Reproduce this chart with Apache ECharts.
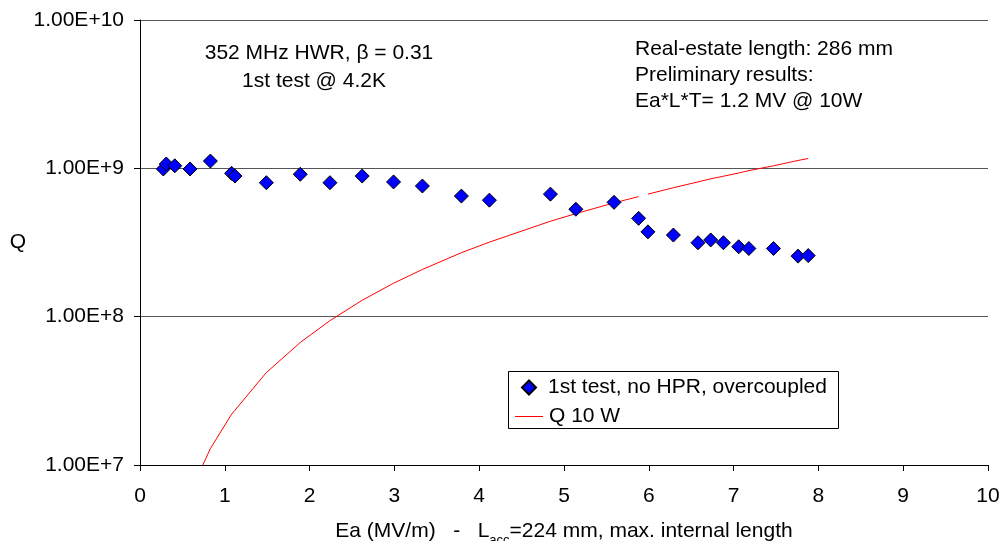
<!DOCTYPE html>
<html>
<head>
<meta charset="utf-8">
<script src="https://cdn.jsdelivr.net/npm/echarts@6/dist/echarts.min.js"></script>
<style>
html,body{margin:0;padding:0;background:#fff;}
#chart{width:1002px;height:541px;}
</style>
</head>
<body>
<div id="chart"></div>
<script>
// ---- data ----
var testE = [0.275, 0.31, 0.41, 0.59, 0.83, 1.08, 1.12, 1.49, 1.89, 2.24, 2.62, 2.99, 3.33, 3.79, 4.12, 4.84, 5.14, 5.59, 5.88, 5.99, 6.29, 6.58, 6.73, 6.88, 7.06, 7.18, 7.47, 7.76, 7.88];
var testQ = [0.99e9, 1.07e9, 1.04e9, 0.99e9, 1.12e9, 0.925e9, 0.887e9, 0.80e9, 0.912e9, 0.80e9, 0.887e9, 0.81e9, 0.76e9, 0.65e9, 0.61e9, 0.67e9, 0.53e9, 0.59e9, 0.46e9, 0.373e9, 0.355e9, 0.315e9, 0.329e9, 0.315e9, 0.296e9, 0.288e9, 0.288e9, 0.256e9, 0.258e9];
var q10E = [0.275, 0.31, 0.41, 0.59, 0.83, 1.08, 1.12, 1.49, 1.89, 2.24, 2.62, 2.99, 3.33, 3.79, 4.12, 4.84, 5.14, 5.59, 5.88, 5.93, 5.99, 6.29, 6.58, 6.73, 6.88, 7.06, 7.18, 7.47, 7.76, 7.88];
var q10Q = [1.4e6, 1.8e6, 3.2e6, 6.5e6, 1.29e7, 2.2e7, 2.34e7, 4.2e7, 6.7e7, 9.4e7, 1.29e8, 1.68e8, 2.08e8, 2.7e8, 3.18e8, 4.4e8, 4.95e8, 5.85e8, 6.45e8, '-', 6.7e8, 7.4e8, 8.1e8, 8.5e8, 8.85e8, 9.3e8, 9.65e8, 1.04e9, 1.13e9, 1.165e9];
var seriesNames = ['1st test, no HPR, overcoupled', 'Q 10 W'];
var xTicks = [0, 10, 1];
var yRange = [1e7, 1e10];
var noteLeft = ['352 MHz HWR, \u03B2 = 0.31', '1st test @ 4.2K'];
var noteRight = ['Real-estate length: 286 mm', 'Preliminary results:', 'Ea*L*T= 1.2 MV @ 10W'];

function zip(a, b) { return a.map(function (v, i) { return [v, b[i]]; }); }

var FONT = 'Arial, "Liberation Sans", sans-serif';
var FS = 21;
var chart = echarts.init(document.getElementById('chart'), null, {renderer: 'canvas'});

var option = {
  backgroundColor: '#ffffff',
  animation: false,
  textStyle: {fontFamily: FONT, color: '#000'},
  grid: {left: 140, right: 14, top: 20, bottom: 76, containLabel: false, outerBoundsMode: 'none'},
  xAxis: {
    type: 'value', min: xTicks[0], max: xTicks[1], interval: xTicks[2],
    name: '{n|Ea (MV/m)   -   L}{s|acc}{n|=224 mm, max. internal length}',
    nameLocation: 'middle', nameGap: 56,
    nameTextStyle: {
      rich: {
        n: {fontSize: FS, fontFamily: FONT, color: '#000', verticalAlign: 'bottom'},
        s: {fontSize: 13, fontFamily: FONT, color: '#000', verticalAlign: 'bottom', padding: [0, 0, -5, 0]}
      }
    },
    axisLine: {show: true, onZero: false, lineStyle: {color: '#000', width: 1}},
    axisTick: {show: true, inside: false, length: 6, lineStyle: {color: '#000'}},
    axisLabel: {fontSize: FS, fontFamily: FONT, color: '#000', margin: 21},
    splitLine: {show: false}
  },
  yAxis: {
    type: 'log', logBase: 10, min: yRange[0], max: yRange[1],
    name: 'Q', nameLocation: 'middle', nameRotate: 0, nameGap: 114,
    nameTextStyle: {fontSize: FS, fontFamily: FONT, color: '#000'},
    axisLine: {show: true, lineStyle: {color: '#000', width: 1}},
    axisTick: {show: true, inside: false, length: 6, lineStyle: {color: '#000'}},
    axisLabel: {
      fontSize: FS, fontFamily: FONT, color: '#000', margin: 16,
      formatter: function (v) { return Number(v).toExponential(2).toUpperCase(); }
    },
    splitLine: {show: true, lineStyle: {color: '#555', width: 1}},
    minorTick: {show: false}, minorSplitLine: {show: false}
  },
  legend: [
    {
      data: [seriesNames[0]], left: 521, top: 377, orient: 'vertical',
      icon: 'diamond', itemWidth: 14, itemHeight: 14,
      textStyle: {fontSize: FS, fontFamily: FONT, color: '#000', padding: [0, 0, 0, 7]},
      padding: 0
    },
    {
      data: [seriesNames[1]], left: 515, top: 406, orient: 'vertical',
      icon: 'rect', itemWidth: 28, itemHeight: 1,
      itemStyle: {color: '#ff0000', borderWidth: 0},
      textStyle: {fontSize: FS, fontFamily: FONT, color: '#000', padding: [0, 0, 0, 1]},
      padding: 0
    }
  ],
  graphic: [
    {type: 'rect', z: 3, shape: {x: 508.5, y: 371.5, width: 330, height: 57},
     style: {fill: '#fff', stroke: '#000', lineWidth: 1}},
    {type: 'text', x: 319, y: 53, style: {text: noteLeft[0], font: FS + 'px ' + FONT, fill: '#000', textAlign: 'center', textVerticalAlign: 'middle'}},
    {type: 'text', x: 314, y: 81, style: {text: noteLeft[1], font: FS + 'px ' + FONT, fill: '#000', textAlign: 'center', textVerticalAlign: 'middle'}},
    {type: 'text', x: 635, y: 49, style: {text: noteRight[0], font: FS + 'px ' + FONT, fill: '#000', textAlign: 'left', textVerticalAlign: 'middle'}},
    {type: 'text', x: 635, y: 75, style: {text: noteRight[1], font: FS + 'px ' + FONT, fill: '#000', textAlign: 'left', textVerticalAlign: 'middle'}},
    {type: 'text', x: 635, y: 101, style: {text: noteRight[2], font: FS + 'px ' + FONT, fill: '#000', textAlign: 'left', textVerticalAlign: 'middle'}}
  ],
  series: [
    {
      name: seriesNames[0], type: 'scatter', symbol: 'diamond', symbolSize: 14,
      itemStyle: {color: '#0000ff', borderColor: '#000', borderWidth: 1, opacity: 1},
      data: zip(testE, testQ), z: 5
    },
    {
      name: seriesNames[1], type: 'line', symbol: 'none', showSymbol: false,
      clip: true, connectNulls: false,
      lineStyle: {color: '#ff0000', width: 1}, itemStyle: {color: '#ff0000'},
      data: zip(q10E, q10Q), z: 4
    }
  ]
};
chart.setOption(option);
</script>
</body>
</html>
